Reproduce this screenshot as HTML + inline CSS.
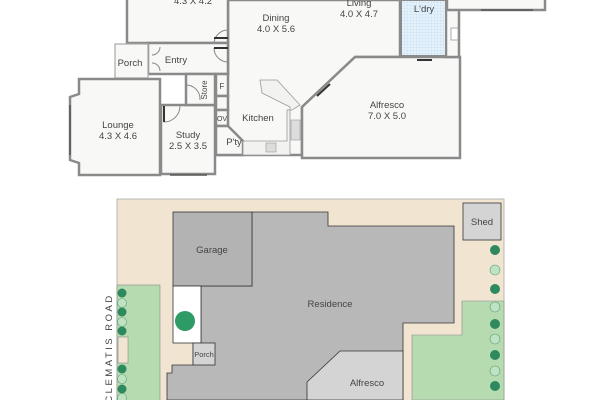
<!DOCTYPE html>
<html><head><meta charset="utf-8"><style>
html,body{margin:0;padding:0;background:#fff;width:609px;height:400px;overflow:hidden}
svg{display:block}
text{font-family:"Liberation Sans",sans-serif;fill:#444}
</style></head><body>
<svg width="609" height="400" viewBox="0 0 609 400" xmlns="http://www.w3.org/2000/svg">
<defs>
<pattern id="grid" width="3" height="3" patternUnits="userSpaceOnUse"><rect width="3" height="3" fill="#e6f2fb"/><path d="M3 0V3H0" fill="none" stroke="#b9d7ee" stroke-width="0.6"/></pattern>
</defs>
<!-- FLOOR PLAN -->
<g fill="#f8f8f6" stroke="#8a8a8a" stroke-width="2.5">
<polygon points="228,0 400,0 400,57 355,57 302,107 302,155 216,155 216,105 228,74"/>
<rect x="127" y="-2" width="101" height="45"/>
<rect x="148" y="43" width="80" height="31"/>
<rect x="115" y="44" width="33" height="34" stroke-width="1.2" stroke="#aaa"/>
<polygon points="79,79 160,79 160,175 79,175 79,163 70,160 70,97 79,94"/>
<rect x="161" y="105" width="54" height="69"/>
<rect x="186" y="74" width="29" height="31"/>
<rect x="216" y="74" width="12" height="22"/>
<rect x="216" y="96" width="12" height="14"/>
<rect x="216" y="110" width="12" height="16"/>
<polygon points="216,126 228,126 243,141 243,155 216,155"/>
<polygon points="355,57 460,57 460,158 302,158 302,107"/>
<rect x="446" y="-2" width="13" height="59"/>
<rect x="447" y="-2" width="98" height="12"/>
</g>
<rect x="401" y="0" width="45" height="56" fill="url(#grid)" stroke="#8a8a8a" stroke-width="2"/>
<rect x="451" y="28" width="7" height="12" fill="#fff" stroke="#999" stroke-width="0.8"/>
<polygon points="260,80 277,80 300,105 292,110 287,110 287,141 243,141 243,155 290,155 290,107 262,93" fill="#f2f2f0" stroke="#999" stroke-width="0.8"/>
<rect x="266" y="143" width="10" height="9" fill="#ddd" stroke="#999" stroke-width="0.6"/>
<rect x="291" y="120" width="9" height="20" fill="#ddd" stroke="#999" stroke-width="0.6"/>
<g fill="none" stroke="#888" stroke-width="1">
<path d="M228 30 A14 14 0 0 0 214 44"/><path d="M228 62 A14 14 0 0 1 214 48"/>
<path d="M160 47 A8 8 0 0 1 152 55"/><path d="M160 71 A8 8 0 0 0 152 63"/>
<path d="M186 85 A14 14 0 0 1 200 100"/>
<path d="M180 106 A16 16 0 0 1 164 122"/>
</g>
<g stroke="#333" stroke-width="2"><line x1="214" y1="38" x2="228" y2="38"/><line x1="214" y1="48" x2="228" y2="48"/><line x1="164" y1="106" x2="164" y2="122"/><line x1="317" y1="96" x2="330" y2="84"/><line x1="417" y1="60" x2="432" y2="60"/></g>
<g stroke="#555" stroke-width="1.5"><line x1="70" y1="105" x2="70" y2="155"/><line x1="170" y1="175" x2="207" y2="175"/><line x1="481" y1="10" x2="533" y2="10"/></g>
<g font-size="9.5" text-anchor="middle">
<text x="193" y="4">4.3 X 4.2</text>
<text x="276" y="21">Dining</text><text x="276" y="32">4.0 X 5.6</text>
<text x="359" y="6">Living</text><text x="359" y="17">4.0 X 4.7</text>
<text x="424" y="12">L'dry</text>
<text x="130" y="66">Porch</text><text x="176" y="63">Entry</text>
<text x="118" y="128">Lounge</text><text x="118" y="139">4.3 X 4.6</text>
<text x="188" y="138">Study</text><text x="188" y="149">2.5 X 3.5</text>
<text x="258" y="121">Kitchen</text><text x="234" y="145">P'ty</text>
<text x="222" y="89" font-size="8">F</text><text x="222" y="121" font-size="7">OV</text>
<text x="387" y="108">Alfresco</text><text x="387" y="119">7.0 X 5.0</text>
<text transform="translate(207,90) rotate(-90)" font-size="8">Store</text>
</g>
<!-- SITE PLAN -->
<rect x="117" y="199" width="387" height="205" fill="#f1e5d2" stroke="#aaa" stroke-width="0.8"/>
<rect x="117" y="285" width="43" height="120" fill="#b7dbb0" stroke="#888" stroke-width="0.6"/>
<polygon points="462,301 504,301 504,400 412,400 412,335 462,335" fill="#b7dbb0" stroke="#888" stroke-width="0.6"/>
<rect x="118" y="337" width="10" height="26" fill="#f1e5d2" stroke="#888" stroke-width="0.6"/>
<polygon points="252,212 328,212 328,226 454,226 454,323 403,323 403,400 167,400 167,373 172,373 172,365 193,365 193,343 201,343 201,286 252,286" fill="#b8b8b8" stroke="#333" stroke-width="0.8"/>
<rect x="173" y="212" width="79" height="74" fill="#b3b3b3" stroke="#333" stroke-width="0.8"/>
<rect x="173" y="286" width="28" height="57" fill="#fff" stroke="#333" stroke-width="0.8"/>
<rect x="193" y="343" width="22" height="22" fill="#d4d4d4" stroke="#333" stroke-width="0.8"/>
<polygon points="340,351 403,351 403,400 307,400 307,382" fill="#d4d4d4" stroke="#333" stroke-width="0.8"/>
<rect x="463" y="203" width="38" height="37" fill="#d4d4d4" stroke="#333" stroke-width="0.8"/>
<circle cx="185" cy="321" r="10" fill="#2e9a66"/>
<g fill="#2e8a5e"><circle cx="122" cy="293" r="4.5"/><circle cx="122" cy="312" r="4.5"/><circle cx="122" cy="331" r="4.5"/><circle cx="122" cy="369" r="4.5"/><circle cx="122" cy="389" r="4.5"/>
<circle cx="495" cy="250" r="5"/><circle cx="495" cy="289" r="5"/><circle cx="495" cy="324" r="5"/><circle cx="495" cy="355" r="5"/><circle cx="495" cy="386" r="5"/></g>
<g fill="#bfe2c2" stroke="#5aa07a" stroke-width="0.6"><circle cx="122" cy="303" r="4.5"/><circle cx="122" cy="322" r="4.5"/><circle cx="122" cy="379" r="4.5"/><circle cx="122" cy="398" r="4.5"/>
<circle cx="495" cy="270" r="5"/><circle cx="495" cy="307" r="5"/><circle cx="495" cy="339" r="5"/><circle cx="495" cy="371" r="5"/></g>
<g font-size="9.5" text-anchor="middle">
<text x="212" y="253">Garage</text><text x="330" y="307">Residence</text>
<text x="482" y="225">Shed</text><text x="204" y="357" font-size="7.5">Porch</text>
<text x="367" y="386">Alfresco</text>
<text transform="translate(112,348) rotate(-90)" font-size="9.5" letter-spacing="2.5">CLEMATIS ROAD</text>
</g>
</svg>
</body></html>
